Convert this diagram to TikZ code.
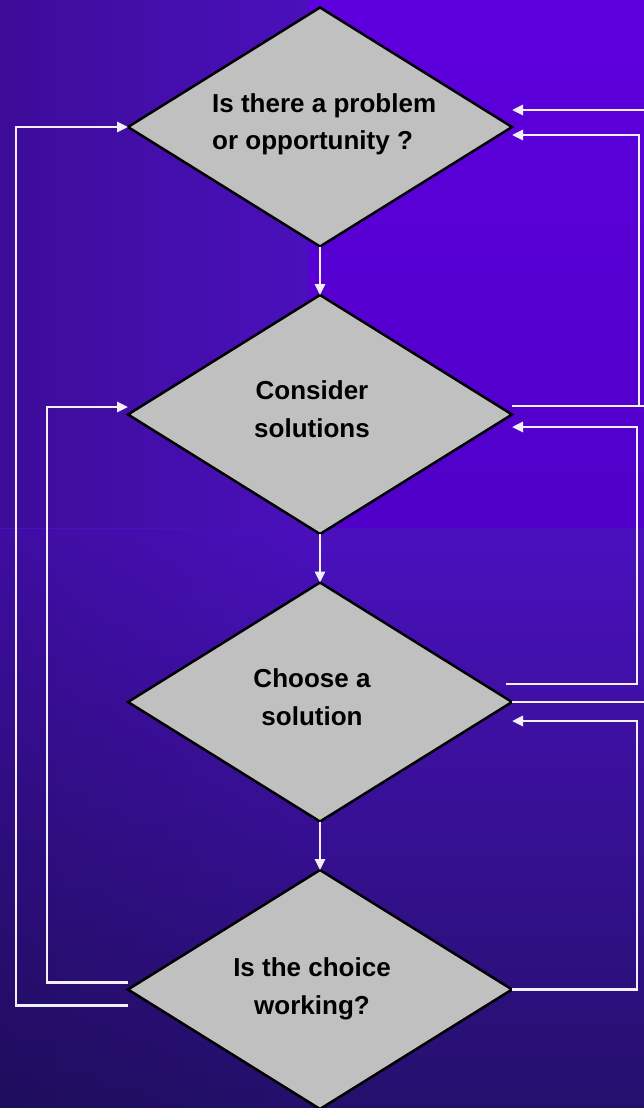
\documentclass[tikz,border=0pt]{standalone}
\usepackage{fontspec}
\setmainfont{Liberation Sans}
\usetikzlibrary{shapes.geometric, arrows.meta, calc, fadings}
\definecolor{boxgray}{HTML}{C0C0C0}
\definecolor{wirecol}{HTML}{F2F0F6}
\definecolor{bgA}{HTML}{3C0C98}
\definecolor{bgB}{HTML}{4A10BC}
\definecolor{panelTop}{HTML}{5E00DE}
\definecolor{panelBot}{HTML}{5000C8}
\definecolor{lowTop}{HTML}{4A10BE}
\definecolor{lowBot}{HTML}{24106C}
\tikzfading[name=fadeR, left color=transparent!0, right color=transparent!100]
\begin{document}
\begin{tikzpicture}[x=1pt, y=1pt,
  box/.style={diamond, draw=black, line width=2.5pt, fill=boxgray,
    minimum width=384pt, minimum height=239pt, inner sep=0pt, outer sep=0pt},
  lbl/.style={font=\bfseries\fontsize{26}{30}\selectfont, text=black, inner sep=0pt},
  wire/.style={draw=wirecol, line width=2.6pt},
  arr/.style={wire, -{Triangle[length=11pt,width=10pt]}}]
\useasboundingbox (0,0) rectangle (644,-1108);
\clip (0,0) rectangle (644,-1108);
% background
\shade[left color=bgA, right color=bgB] (0,0) rectangle (308.5,-528.5);
\shade[top color=panelTop, bottom color=panelBot] (308,0) rectangle (644,-528);
\shade[top color=lowTop, bottom color=lowBot] (0,-528) rectangle (644,-1108);
\fill[black, fill opacity=0.15, path fading=fadeR] (0,-528) rectangle (320,-1108);
% diamonds
\node[box] (d1) at (320,-127) {};
\node[box] (d2) at (320,-414.5) {};
\node[box] (d3) at (320,-702) {};
\node[box] (d4) at (320,-989.5) {};
% labels
\node[lbl, anchor=base west] (t1a) at (212,-112) {Is there a problem};
\node[lbl, anchor=base west] (t1b) at (212,-149) {or opportunity ?};
\node[lbl, anchor=base] (t2a) at (312,-399) {Consider};
\node[lbl, anchor=base] (t2b) at (312,-437) {solutions};
\node[lbl, anchor=base] (t3a) at (312,-687) {Choose a};
\node[lbl, anchor=base] (t3b) at (312,-725) {solution};
\node[lbl, anchor=base] (t4a) at (312,-976) {Is the choice};
\node[lbl, anchor=base] (t4b) at (312,-1014) {working?};
% helper coordinates
\coordinate (far) at (670,0);
\coordinate (r1) at (639,0);
\coordinate (r2) at (637,0);
\coordinate (l1) at (16,0);
\coordinate (l2) at (47,0);
% main flow
\draw[arr] (d1.south) -- (d2.north);
\draw[arr] (d2.south) -- (d3.north);
\draw[arr] (d3.south) -- (d4.north);
% left loops
\coordinate (d4lo) at ([yshift=-16pt]d4.west);
\draw[arr] (d4lo) -| (l1 |- d1.west) -- (d1.west);
\coordinate (d4hi) at ([yshift=7pt]d4.west);
\coordinate (d2in) at ([yshift=7.5pt]d2.west);
\draw[arr] (d4hi) -| (l2 |- d2in) -- (d2in);
% right loops
\coordinate (d1inA) at ([yshift=17pt]d1.east);
\draw[arr] (d3.east) -| (far |- d1inA) -- (d1inA);
\coordinate (d2out) at ([yshift=8.5pt]d2.east);
\coordinate (d1inB) at ([yshift=-8pt]d1.east);
\draw[wire] (d2out) -- (far |- d2out);
\draw[arr] (d2out) -| (r1 |- d1inB) -- (d1inB);
\coordinate (d3out) at ([xshift=-6pt,yshift=18pt]d3.east);
\coordinate (d2in2) at ([yshift=-12.5pt]d2.east);
\draw[arr] (d3out) -| (r2 |- d2in2) -- (d2in2);
\coordinate (d3in) at ([yshift=-19pt]d3.east);
\draw[arr] (d4.east) -| (r2 |- d3in) -- (d3in);
\end{tikzpicture}
\end{document}
